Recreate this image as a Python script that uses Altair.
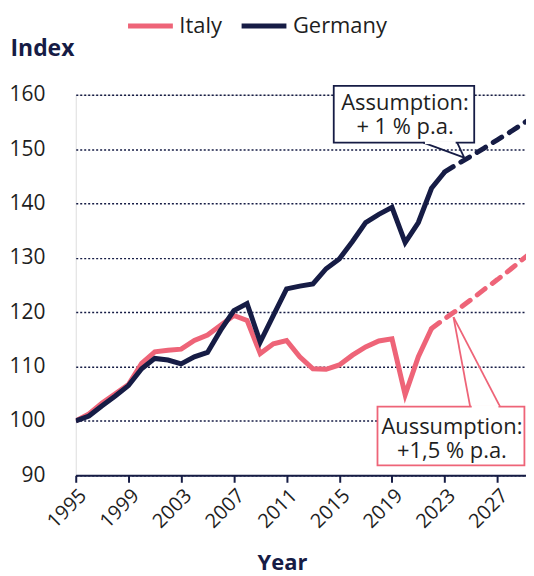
import altair as alt
import pandas as pd

# ---------------- data ----------------
series_names = ["Italy", "Germany"]

years_germany = list(range(1995, 2024))
germany = [100.0, 100.9, 102.8, 104.6, 106.5, 109.6, 111.5, 111.2, 110.5, 111.8,
           112.6, 116.7, 120.3, 121.6, 114.5, 119.4, 124.3, 124.8, 125.2, 128.0,
           129.8, 133.0, 136.5, 138.0, 139.3, 132.8, 136.5, 142.8, 145.8]

years_italy = list(range(1995, 2023))
italy = [100.0, 101.3, 103.3, 105.0, 106.7, 110.6, 112.7, 113.0, 113.2, 114.8,
         115.8, 117.6, 119.4, 118.5, 112.4, 114.2, 114.8, 111.8, 109.6, 109.5,
         110.3, 112.1, 113.6, 114.7, 115.1, 104.8, 111.8, 117.0]

# assumption paths (+1 % p.a. Germany, +1.5 % p.a. Italy)
years_germany_proj = list(range(2023, 2031))
germany_proj = [145.8, 147.3, 148.7, 150.2, 151.7, 153.2, 154.8, 156.3]
years_italy_proj = list(range(2022, 2031))
italy_proj = [117.0, 118.8, 120.5, 122.3, 124.2, 126.0, 127.9, 129.9, 131.8]

x_ticks = [1995, 1999, 2003, 2007, 2011, 2015, 2019, 2023, 2027]
y_ticks = [90, 100, 110, 120, 130, 140, 150, 160]

callout_germany = ["Assumption:", "+ 1 % p.a."]
callout_italy = ["Aussumption:", "+1,5 % p.a."]

# ---------------- tables ----------------
hist = pd.DataFrame(
    [{"year": y, "value": v, "country": "Italy"} for y, v in zip(years_italy, italy)]
    + [{"year": y, "value": v, "country": "Germany"} for y, v in zip(years_germany, germany)]
)
proj = pd.DataFrame(
    [{"year": y, "value": v, "country": "Italy"} for y, v in zip(years_italy_proj, italy_proj)]
    + [{"year": y, "value": v, "country": "Germany"} for y, v in zip(years_germany_proj, germany_proj)]
)

NAVY = "#161C45"
PINK = "#EE6478"
TEXT = "#1e1e1e"

# annotation geometry (data units)
boxes = pd.DataFrame([
    {"year": 2014.58, "year2": 2025.24, "value": 161.65, "value2": 151.2, "country": "Germany"},
    {"year": 2017.90, "year2": 2029.05, "value": 102.64, "value2": 91.83, "country": "Italy"},
])
pointers = pd.DataFrame([
    {"year": 2021.38, "value": 151.2, "year2": 2024.48, "value2": 148.45, "country": "Germany"},
    {"year": 2023.95, "value": 151.2, "year2": 2024.48, "value2": 148.45, "country": "Germany"},
    {"year": 2024.93, "value": 102.64, "year2": 2023.67, "value2": 119.08, "country": "Italy"},
    {"year": 2027.20, "value": 102.64, "year2": 2023.67, "value2": 119.08, "country": "Italy"},
])
gaps = pd.DataFrame([
    {"year": 2021.50, "year2": 2023.83, "value": 151.2},
    {"year": 2025.05, "year2": 2027.08, "value": 102.64},
])
labels = pd.DataFrame([
    {"year": 2019.99, "value": 158.4, "text": "\n".join(callout_germany)},
    {"year": 2023.55, "value": 98.8, "text": "\n".join(callout_italy)},
])

# ---------------- scales / axes ----------------
xscale = alt.Scale(domain=[1995, 2029.17], nice=False, zero=False)
yscale = alt.Scale(domain=[90, 160], nice=False, zero=False)
cscale = alt.Scale(domain=series_names, range=[PINK, NAVY])

xaxis = alt.Axis(values=x_ticks, format="d", labelAngle=-45, grid=False,
                 domainColor=NAVY, domainWidth=2, tickColor=NAVY, tickWidth=2,
                 tickSize=7, labelFontSize=20, labelColor=TEXT, labelPadding=3,
                 title="Year", titleFontSize=22, titleFontWeight="bold",
                 titleColor=NAVY, titleX=207, titleY=88, titleBaseline="middle",
                 titleAlign="center")
yaxis = alt.Axis(values=y_ticks, domain=False, ticks=False, grid=True,
                 gridDash=[2, 2], gridColor=NAVY, gridWidth=1.5,
                 labelPadding=31, labelFontSize=21, labelColor=TEXT,
                 title="Index", titleAngle=0, titleX=-66, titleY=-46,
                 titleAlign="left", titleBaseline="middle", titleFontSize=23,
                 titleFontWeight="bold", titleColor=NAVY)

X = alt.X("year:Q", scale=xscale, axis=xaxis)
Y = alt.Y("value:Q", scale=yscale, axis=yaxis)

legend = alt.Legend(title=None, orient="none", legendX=50, legendY=-94,
                    direction="horizontal", symbolType="stroke", symbolSize=2025,
                    symbolStrokeWidth=5, labelFontSize=22, labelColor=TEXT,
                    columnPadding=9, labelOffset=4)

lines = alt.Chart(hist).mark_line(strokeWidth=5, clip=True).encode(
    x=X, y=Y,
    color=alt.Color("country:N", scale=cscale, legend=legend),
    order=alt.Order("year:Q"),
)

dashed = alt.Chart(proj).mark_line(strokeWidth=5, strokeDash=[10, 9],
                                   strokeCap="round", clip=True).encode(
    x=X, y=Y,
    color=alt.Color("country:N", scale=cscale, legend=None),
    order=alt.Order("year:Q"),
)

box_layer = alt.Chart(boxes).mark_rect(fill="white", strokeWidth=1.8).encode(
    x=X, x2="year2:Q", y=Y, y2="value2:Q",
    stroke=alt.Stroke("country:N", scale=cscale, legend=None),
)

pointer_layer = alt.Chart(pointers).mark_rule(strokeWidth=1.8).encode(
    x=X, x2="year2:Q", y=Y, y2="value2:Q",
    color=alt.Color("country:N", scale=cscale, legend=None),
)

gap_layer = alt.Chart(gaps).mark_rule(strokeWidth=3, color="white").encode(
    x=X, x2="year2:Q", y=Y,
)

text_layer = alt.Chart(labels).mark_text(fontSize=22, color=TEXT, lineBreak="\n",
                                         lineHeight=24, align="center",
                                         baseline="middle").encode(
    x=X, y=Y, text="text:N",
)

chart = alt.layer(lines, dashed, box_layer, pointer_layer, gap_layer, text_layer).properties(
    width=452, height=382, background="white",
    padding={"top": -8, "left": 0, "right": 0, "bottom": 0},
).configure_view(stroke=None).configure(font="Open Sans")

chart.save("out.html", embed_options={"renderer": "svg", "actions": False})
